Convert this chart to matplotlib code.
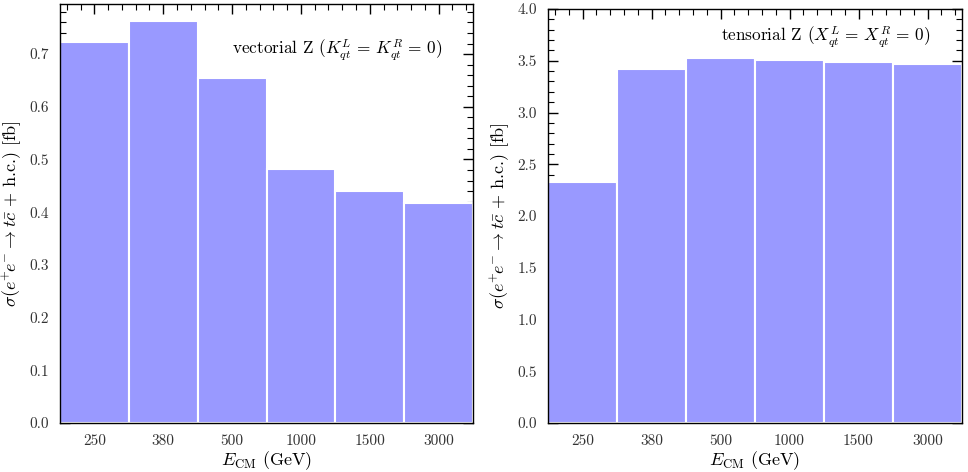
import matplotlib
matplotlib.use("Agg")
import matplotlib.pyplot as plt
from matplotlib.ticker import MultipleLocator, FormatStrFormatter

plt.rcParams['font.family'] = 'serif'
plt.rcParams['font.serif'] = ['cmr10']
plt.rcParams['mathtext.fontset'] = 'cm'
plt.rcParams['axes.formatter.use_mathtext'] = True

energies = ['250', '380', '500', '1000', '1500', '3000']
sigma_vector = [0.723, 0.763, 0.654, 0.481, 0.441, 0.418]
sigma_tensor = [2.33, 3.42, 3.53, 3.51, 3.49, 3.47]

bar_color = '#9999ff'
W, H = 968, 472
fig = plt.figure(figsize=(W/100, H/100), dpi=100)

ax1 = fig.add_axes([60/W, 1-423/H, 413/W, 419/H])
ax2 = fig.add_axes([548/W, 1-423/H, 414/W, 414/H])

ylabel = r'$\sigma(e^{+}\!e^{-} \to t\bar{c}\, +\,$h.c.$)$ [fb]'

def style(ax, ymax, major, minor):
    x = range(len(energies))
    ax.set_xlim(-0.5, len(energies)-0.5)
    ax.set_ylim(0, ymax)
    ax.set_xticks(list(x))
    ax.set_xticklabels(energies)
    ax.xaxis.set_minor_locator(MultipleLocator(0.2))
    ax.yaxis.set_major_locator(MultipleLocator(major))
    ax.yaxis.set_minor_locator(MultipleLocator(minor))
    ax.yaxis.set_major_formatter(FormatStrFormatter('%.1f'))
    ax.tick_params(which='both', direction='in', top=True, right=True,
                   labelsize=11, labelcolor='#333333')
    ax.tick_params(which='major', length=7, width=1)
    ax.tick_params(which='minor', length=4, width=0.8)
    ax.tick_params(axis='x', which='major', pad=8)
    ax.tick_params(axis='y', which='major', pad=8)
    ax.set_xlabel(r'$E_{\rm CM}$ (GeV)', fontsize=13, labelpad=1)
    ax.set_ylabel(ylabel, fontsize=13, labelpad=4)
    for s in ax.spines.values():
        s.set_linewidth(1.0)

ax1.bar(range(len(energies)), sigma_vector, width=1.0, color=bar_color,
        edgecolor='white', linewidth=1.5, zorder=2)
style(ax1, 0.795, 0.1, 0.02)
ax1.text(0.927, 0.89, r'vectorial Z ($K^L_{qt} \,=\, K^R_{qt} \,=\, 0$)', transform=ax1.transAxes,
         ha='right', va='center', fontsize=12.4)

ax2.bar(range(len(energies)), sigma_tensor, width=1.0, color=bar_color,
        edgecolor='white', linewidth=1.5, zorder=2)
style(ax2, 4.0, 0.5, 0.1)
ax2.text(0.923, 0.932, r'tensorial Z ($X^L_{qt} \,=\, X^R_{qt} \,=\, 0$)', transform=ax2.transAxes,
         ha='right', va='center', fontsize=12.4)

fig.savefig('out.png', dpi=100)
